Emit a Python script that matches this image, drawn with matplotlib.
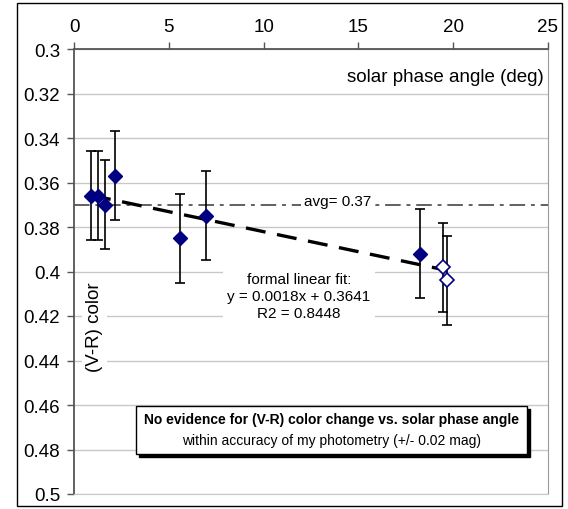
import numpy as np
import matplotlib
matplotlib.use("Agg")
import matplotlib.pyplot as plt
from matplotlib.patches import Rectangle

plt.rcParams['font.family'] = ['Liberation Sans', 'DejaVu Sans']

# measured points (filled) and the two newest ones (open)
phase = [0.9, 1.25, 1.65, 2.16, 5.59, 6.96, 18.25]
vr = [0.366, 0.366, 0.370, 0.357, 0.385, 0.375, 0.392]
vr_err = [0.02, 0.02, 0.02, 0.02, 0.02, 0.02, 0.02]
phase_open = [19.44, 19.65]
vr_open = [0.398, 0.404]
vr_open_err = [0.02, 0.02]

avg = 0.37
slope = 0.0018
intercept = 0.3641
r2 = 0.8448

xticks = [0, 5, 10, 15, 20, 25]
yticks = [0.3, 0.32, 0.34, 0.36, 0.38, 0.4, 0.42, 0.44, 0.46, 0.48, 0.5]

fig = plt.figure(figsize=(5.68, 5.10), dpi=100)
ax = fig.add_axes([74/568, 1-495/510, (548-74)/568, (495-50)/510])

# outer chart frame
fig.patches.append(Rectangle((17/568, 3/510), (562-17)/568, (506-3)/510,
                             transform=fig.transFigure, fill=False,
                             edgecolor='black', lw=1))

ax.set_xlim(0, 25)
ax.set_ylim(0.5, 0.3)
ax.xaxis.tick_top()
ax.set_xticks(xticks)
ax.set_yticks(yticks)
ax.set_yticklabels(['%g' % t for t in yticks])
ax.tick_params(axis='both', labelsize=13.5, direction='out', length=5,
               color='#555555', width=1, pad=5)

for y in yticks:
    ax.axhline(y, color='#c8c8c8', lw=1, zorder=0)

for s in ['top', 'left']:
    ax.spines[s].set_color('#555555')
    ax.spines[s].set_linewidth(1.3)
ax.spines['right'].set_color('#9a9a9a')
ax.spines['bottom'].set_color('#c8c8c8')

# average line
ax.axhline(avg, color='#606060', lw=1.4, ls=(0, (8, 3, 2, 3)), zorder=1)
ax.text(13.9, 0.3681, 'avg= %.2f' % avg, fontsize=11, ha='center', va='center',
        bbox=dict(facecolor='white', edgecolor='none', pad=2), zorder=2)

# linear fit
xf = np.array([min(phase), max(phase_open)])
ax.plot(xf, slope * xf + intercept, color='black', lw=2.4, ls=(0, (6, 3.5)), zorder=3)
ax.text(11.87, 0.4109, 'formal linear fit:\ny = %.4fx + %.4f\nR2 = %.4f' % (slope, intercept, r2),
        fontsize=11, ha='center', va='center', linespacing=1.25,
        bbox=dict(facecolor='white', edgecolor='none', pad=3), zorder=2)

# data
ax.errorbar(phase, vr, yerr=vr_err, fmt='none', ecolor='black', elinewidth=1.2,
            capsize=3.8, capthick=1.2, zorder=4)
ax.errorbar(phase_open, vr_open, yerr=vr_open_err, fmt='none', ecolor='black',
            elinewidth=1.2, capsize=3.8, capthick=1.2, zorder=4)
ax.plot(phase, vr, 'D', color='#000080', ms=7.5, zorder=5)
ax.plot(phase_open, vr_open, 'D', mfc='white', mec='#000080', mew=1.2, ms=7.5, zorder=5)

ax.text(24.8, 0.3125, 'solar phase angle (deg)', fontsize=13.5, ha='right', va='center')

ax.text(1.1, 0.4247, '(V-R) color', fontsize=13.5, rotation=90, ha='center', va='center',
        bbox=dict(facecolor='white', edgecolor='none', pad=3), zorder=2)

# note box with shadow
bx0, bx1, by0, by1 = 3.27, 23.9, 0.4603, 0.482
ax.add_patch(Rectangle((bx0 + 0.15, by0 + 0.0014), bx1 - bx0, by1 - by0,
                       facecolor='black', edgecolor='black', zorder=6))
ax.add_patch(Rectangle((bx0, by0), bx1 - bx0, by1 - by0,
                       facecolor='white', edgecolor='black', lw=1, zorder=7))
ax.text(13.6, 0.4663, 'No evidence for (V-R) color change vs. solar phase angle',
        fontsize=10, fontweight='bold', ha='center', va='center', zorder=8)
ax.text(13.6, 0.4757, 'within accuracy of my photometry (+/- 0.02 mag)',
        fontsize=10, ha='center', va='center', zorder=8)

fig.savefig('out.png', dpi=100)
